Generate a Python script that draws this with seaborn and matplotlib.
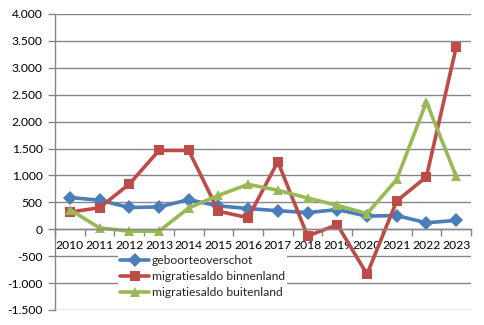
import matplotlib
matplotlib.use("Agg")
import matplotlib.pyplot as plt
import seaborn as sns
import pandas as pd
import numpy as np

years = ["2010", "2011", "2012", "2013", "2014", "2015", "2016",
         "2017", "2018", "2019", "2020", "2021", "2022", "2023"]
geboorteoverschot = [590, 540, 405, 415, 550, 435, 385, 345, 310, 365, 245, 255, 120, 165]
binnenland = [320, 400, 840, 1465, 1465, 335, 215, 1255, -125, 85, -835, 525, 975, 3380]
buitenland = [365, 25, -35, -35, 395, 630, 835, 725, 580, 445, 290, 925, 2365, 985]

series_names = ["geboorteoverschot", "migratiesaldo binnenland", "migratiesaldo buitenland"]
colors = ["#4A7EBB", "#BE4B48", "#98B954"]
markers = ["D", "s", "^"]

df = pd.concat([
    pd.DataFrame({"pos": np.arange(len(years)), "jaar": years, "waarde": vals, "reeks": name})
    for name, vals in zip(series_names, [geboorteoverschot, binnenland, buitenland])
])

sns.set_theme(style="white")
plt.rcParams["font.family"] = ["Lato", "DejaVu Sans"]

fig = plt.figure(figsize=(4.85, 3.25), dpi=100)
ax = fig.add_axes([55 / 485, 15 / 325, 416 / 485, 296 / 325])

sns.lineplot(data=df, x="pos", y="waarde", hue="reeks", style="reeks",
             palette=colors, markers=markers, dashes=False, linewidth=2.6,
             markersize=7.5, markeredgewidth=0, ax=ax, legend="full")

ax.set_xlim(-0.5, len(years) - 0.5)
ax.set_ylim(-1500, 4000)

ax.grid(axis="y", color="#868686", linewidth=1.0)
ax.set_axisbelow(True)
for s in ["top", "right"]:
    ax.spines[s].set_visible(False)
ax.spines["left"].set_color("#868686")
ax.spines["left"].set_linewidth(1.0)
ax.spines["bottom"].set_position(("data", 0))
ax.spines["bottom"].set_color("#868686")
ax.spines["bottom"].set_linewidth(1.0)

ax.tick_params(axis="y", which="major", left=True, length=5, width=1.0,
               color="#868686", pad=4, labelsize=8.7, labelcolor="#000000")
ax.tick_params(axis="x", which="major", bottom=True, length=0, pad=8,
               labelsize=8.7, labelcolor="#000000")
ax.tick_params(axis="x", which="minor", bottom=True, length=5, width=1.0, color="#868686")

yticks = np.arange(-1500, 4001, 500)
ax.set_yticks(yticks)
ax.set_yticklabels([f"{v:,}".replace(",", ".") for v in yticks])
ax.set_xticks(np.arange(len(years)))
ax.set_xticklabels(years)
ax.set_xticks(np.arange(len(years) + 1) - 0.5, minor=True)
ax.set_xlabel("")
ax.set_ylabel("")

handles, labels = ax.get_legend_handles_labels()
ax.get_legend().remove()
leg = fig.legend(handles, labels, loc="upper left",
                 bbox_to_anchor=(118 / 485, 1 - 253 / 325),
                 frameon=True, facecolor="white", edgecolor="none", framealpha=1,
                 fontsize=8.7, handlelength=2.4, handletextpad=0.2,
                 labelspacing=0.4, borderpad=0.2, borderaxespad=0)
leg.get_frame().set_boxstyle("square", pad=0)
leg.set_zorder(5)

fig.savefig("out.png", dpi=100)
